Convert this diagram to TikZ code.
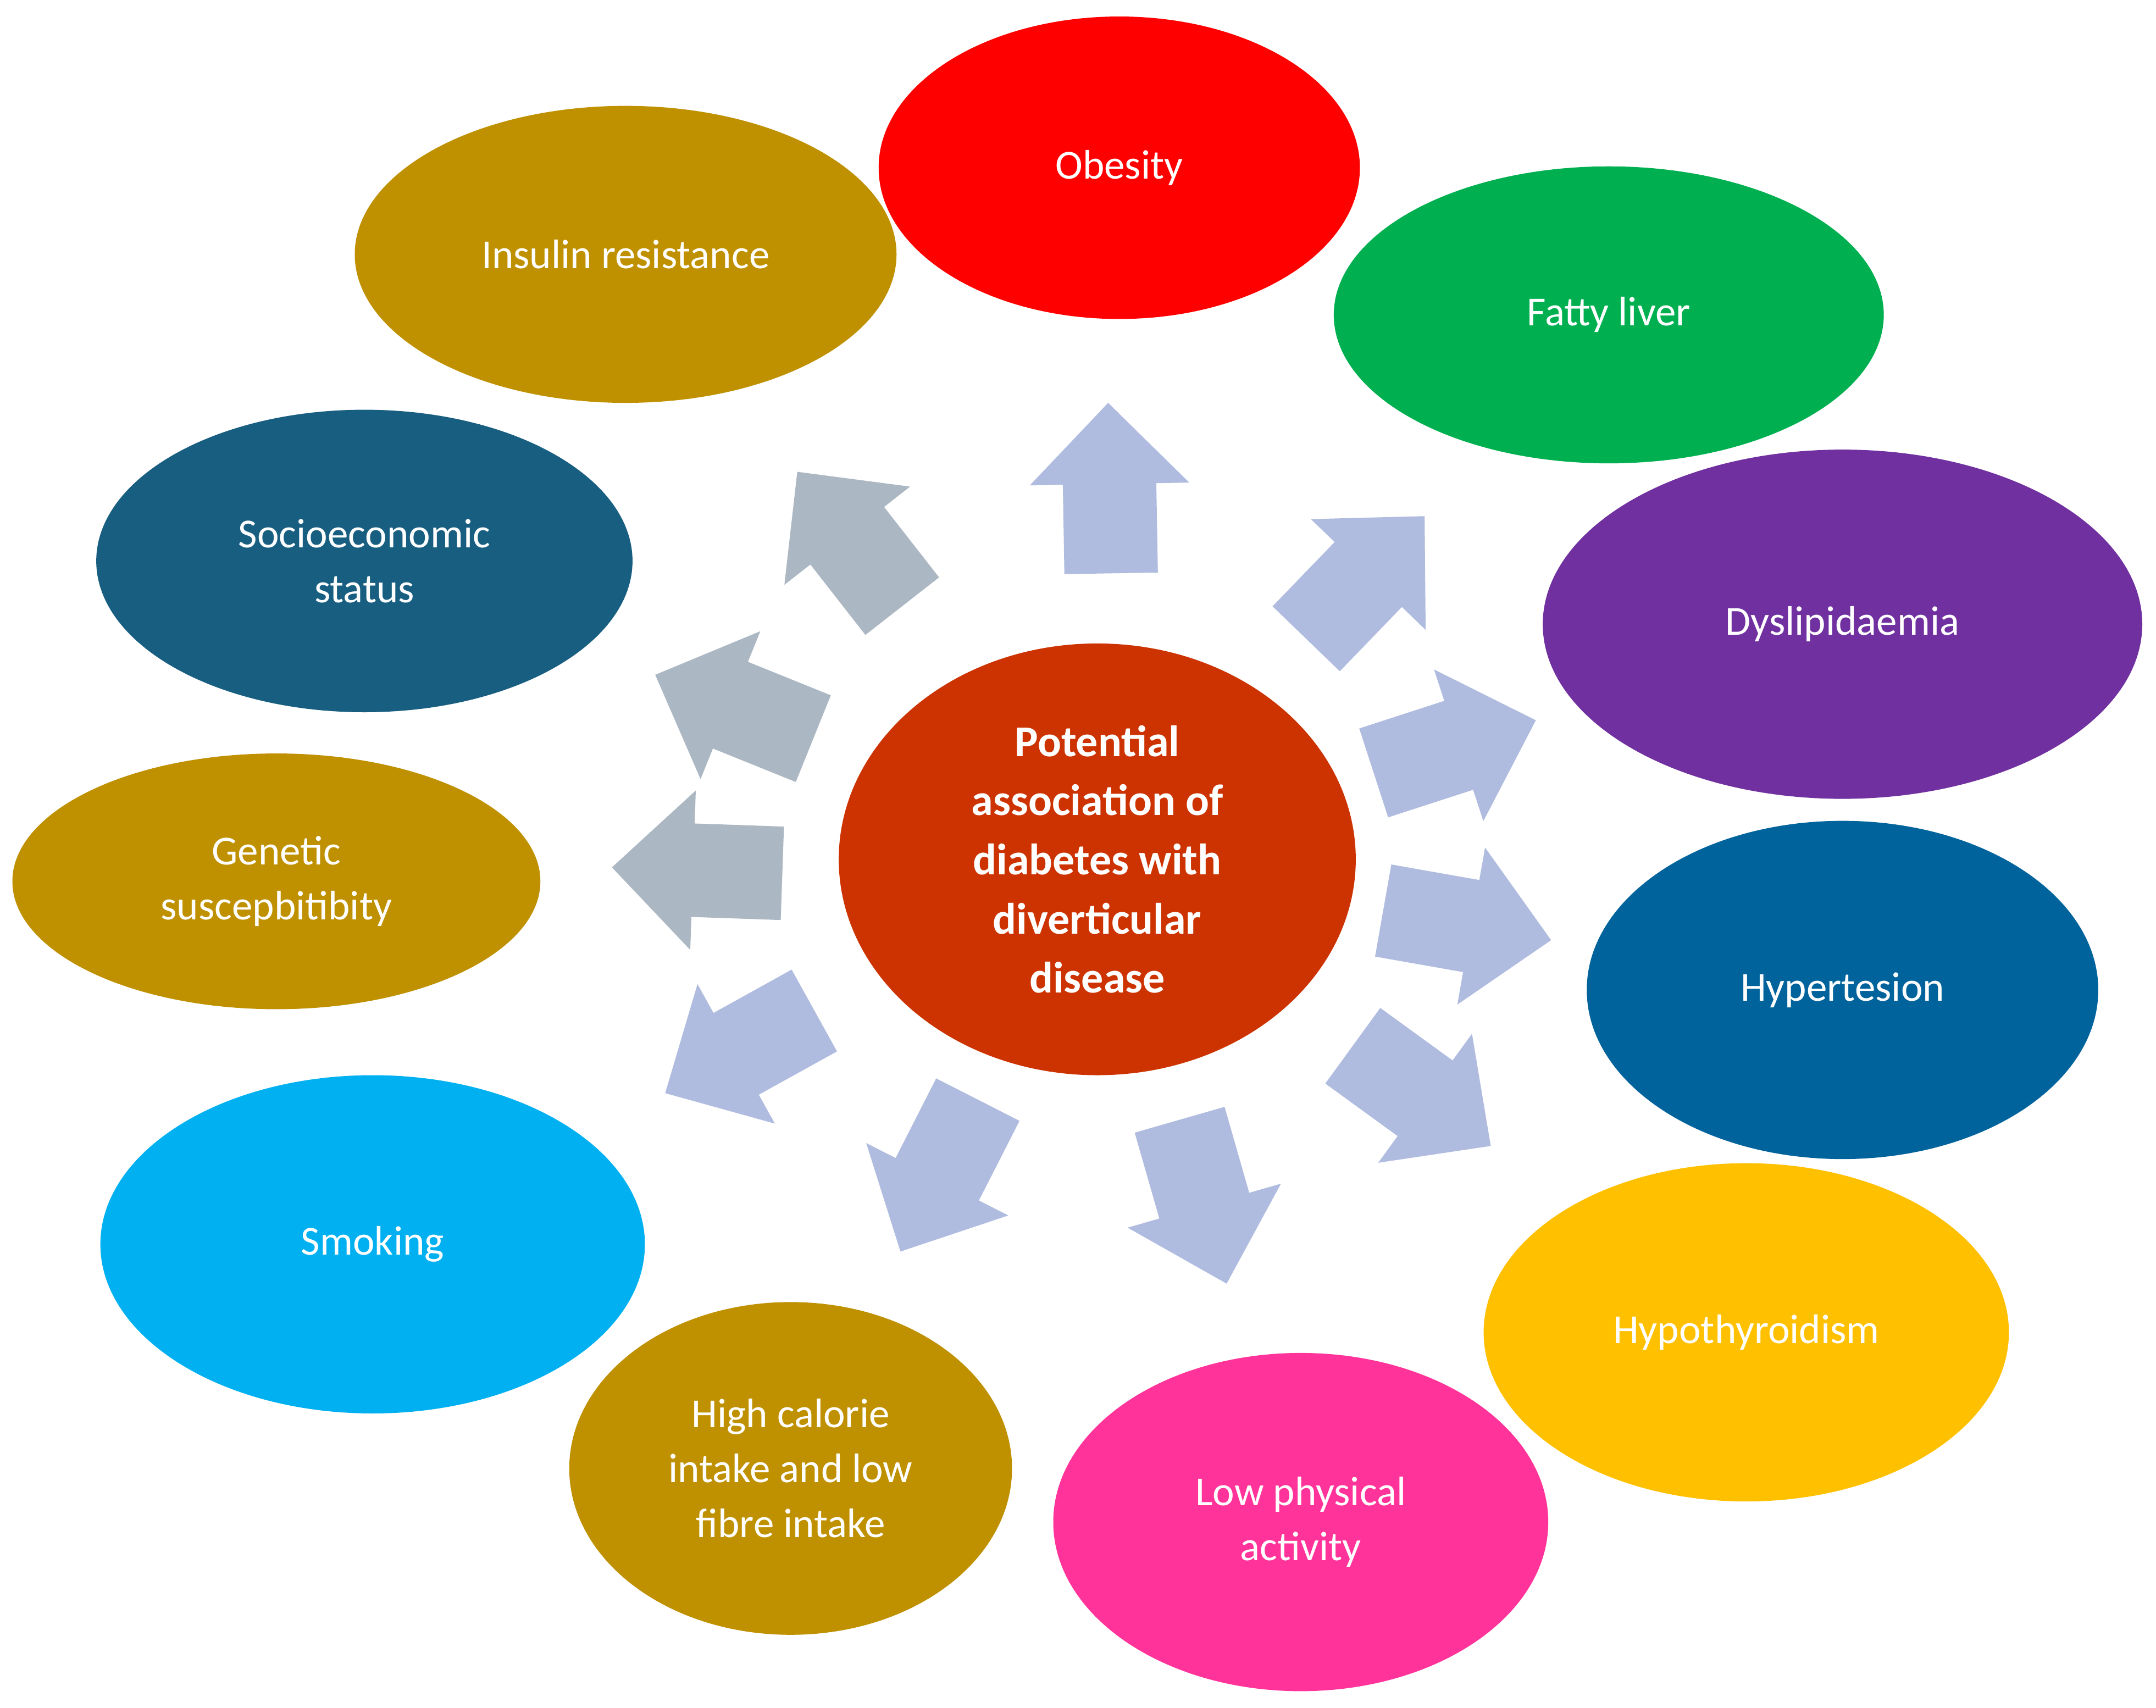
\documentclass[tikz,border=0pt]{standalone}
\usepackage{fontspec}
\setmainfont{Carlito}
\usetikzlibrary{shapes.geometric}
\begin{document}
\begin{tikzpicture}[x=1pt,y=1pt,
  el/.style={ellipse,draw=none,text=white,align=center,inner sep=0pt,font=\fontsize{30}{40}\selectfont},
  barrow/.pic={\fill[#1] (-62,-34) -- (3,-34) -- (3,-58) -- (62,0) -- (3,58) -- (3,34) -- (-62,34) -- cycle;}]
\definecolor{gold}{HTML}{BF9000}
\definecolor{lb}{HTML}{B0BCDF}
\definecolor{gr}{HTML}{ABB7C2}
\definecolor{soc}{HTML}{185E80}\definecolor{fl}{HTML}{00B050}
\definecolor{dys}{HTML}{7030A0}\definecolor{hyp}{HTML}{00639C}
\definecolor{smk}{HTML}{00B0F0}\definecolor{thy}{HTML}{FFC000}
\definecolor{low}{HTML}{FF3399}\definecolor{ctr}{HTML}{CC3300}
\useasboundingbox[fill=white] (0,0) rectangle (1568,-1242);
\newcommand{\myell}[7]{\node[el,fill=#4,minimum width=#5*2pt,minimum height=#6*2pt] (#1) at (#2,-#3) {#7};}
\myell{obes}{814}{122}{red}{175}{110}{Obesity}
\myell{ins}{455}{185}{gold}{197}{108}{Insulin resistance}
\myell{fat}{1170}{229}{fl}{200}{108}{Fatty liver}
\myell{soc}{265}{408}{soc}{195}{110}{Socioeconomic\\status}
\myell{dys}{1340}{454}{dys}{218}{127}{Dyslipidaemia}
\myell{gen}{201}{641}{gold}{192}{93}{Genetic\\suscepbitibity}
\myell{hyp}{1340}{720}{hyp}{186}{123}{Hypertesion}
\myell{smk}{271}{905}{smk}{198}{123}{Smoking}
\myell{thy}{1270}{969}{thy}{191}{123}{Hypothyroidism}
\myell{hcal}{575}{1068}{gold}{161}{121}{High calorie\\intake and low\\fibre intake}
\myell{low}{946}{1107}{low}{180}{123}{Low physical\\activity}
\node[el,fill=ctr,minimum width=376pt,minimum height=314pt,font=\fontsize{32}{43}\selectfont\bfseries] (ctr) at (798,-625) {Potential\\association of\\diabetes with\\diverticular\\disease};
\pic[rotate=91] at (807,-355) {barrow=lb};
\pic[rotate=128] at (618,-392) {barrow=gr};
\pic[rotate=46] at (993,-420) {barrow=lb};
\pic[rotate=18] at (1058,-543) {barrow=lb};
\pic[rotate=-10] at (1067,-673) {barrow=lb};
\pic[rotate=-36] at (1034,-797) {barrow=lb};
\pic[rotate=-74] at (875,-874) {barrow=lb};
\pic[rotate=-117] at (683,-855) {barrow=lb};
\pic[rotate=-151] at (538,-765) {barrow=lb};
\pic[rotate=178] at (507,-633) {barrow=gr};
\pic[rotate=158] at (534,-514) {barrow=gr};
\end{tikzpicture}
\end{document}
